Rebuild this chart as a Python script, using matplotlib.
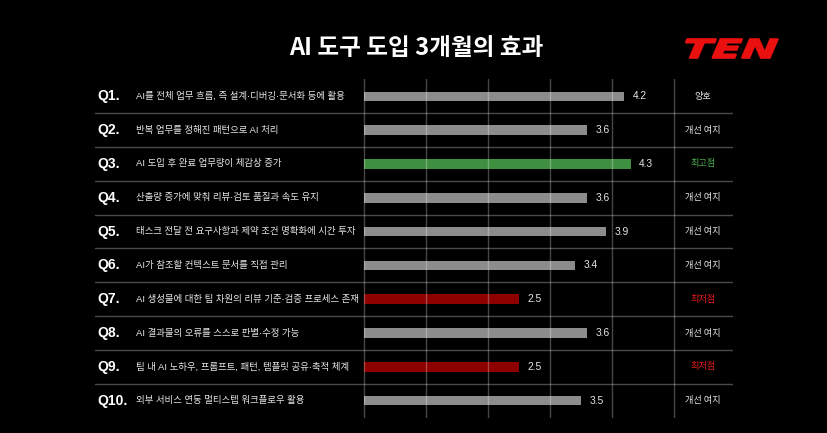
import matplotlib.pyplot as plt
from matplotlib import transforms
from matplotlib.font_manager import FontProperties
from matplotlib.textpath import TextPath
from matplotlib.patches import PathPatch

plt.rcParams['font.family'] = ['Noto Sans CJK KR', 'DejaVu Sans']
MIXED = ['Liberation Sans', 'Noto Sans CJK KR']   # narrow latin + middle dot, hangul fallback

# data
q_ids = ['Q1.', 'Q2.', 'Q3.', 'Q4.', 'Q5.', 'Q6.', 'Q7.', 'Q8.', 'Q9.', 'Q10.']
questions = [
    'AI를 전체 업무 흐름, 즉 설계·디버깅·문서화 등에 활용',
    '반복 업무를 정해진 패턴으로 AI 처리',
    'AI 도입 후 완료 업무량이 체감상 증가',
    '산출량 증가에 맞춰 리뷰·검토 품질과 속도 유지',
    '태스크 전달 전 요구사항과 제약 조건 명확화에 시간 투자',
    'AI가 참조할 컨텍스트 문서를 직접 관리',
    'AI 생성물에 대한 팀 차원의 리뷰 기준·검증 프로세스 존재',
    'AI 결과물의 오류를 스스로 판별·수정 가능',
    '팀 내 AI 노하우, 프롬프트, 패턴, 템플릿 공유·축적 체계',
    '외부 서비스 연동 멀티스텝 워크플로우 활용',
]
scores = [4.2, 3.6, 4.3, 3.6, 3.9, 3.4, 2.5, 3.6, 2.5, 3.5]
status = ['양호', '개선 여지', '최고점', '개선 여지', '개선 여지',
          '개선 여지', '최저점', '개선 여지', '최저점', '개선 여지']

# styling per status
bar_col = {'최고점': '#3f8f41', '최저점': '#8e0000'}
txt_col = {'최고점': '#4caf50', '최저점': '#e81818'}
GREY_BAR = '#8c8c8c'

W, H = 828, 433
fig = plt.figure(figsize=(W / 100, H / 100), dpi=100, facecolor='black')

# axes spans the table width; 0 of the scale sits at x=364px, 62px per point
left_px, right_px, zero_px, unit_px = 95, 733, 364, 62
top_px, bot_px = 79.4, 417.6
ax = fig.add_axes([left_px / W, (H - bot_px) / H,
                   (right_px - left_px) / W, (bot_px - top_px) / H])
ax.set_facecolor('black')
ax.set_xlim(-(zero_px - left_px) / unit_px, (right_px - zero_px) / unit_px)
n = len(scores)
ax.set_ylim(n - 0.5, -0.5)
ax.axis('off')

rows = list(range(n))
colors = [bar_col.get(s, GREY_BAR) for s in status]
ax.barh(rows, scores, height=0.28, color=colors, zorder=2)

# row separators
for k in range(n - 1):
    ax.axhline(k + 0.5, color='#4a4a4a', lw=1, zorder=1)
# vertical grid (0..5), last one separates the status column
for v in range(6):
    ax.axvline(v, color='white', alpha=0.28, lw=1, zorder=3)

# value labels
for i, v in enumerate(scores):
    ax.text(v + 0.14, i, f'{v:.1f}', color='#e6e6e6', fontsize=7.4,
            family=MIXED, va='center', ha='left', zorder=4)

tr = transforms.blended_transform_factory(fig.transFigure, ax.transData)
for i in rows:
    ax.text(97 / W, i, q_ids[i], transform=tr, color='white', fontsize=10,
            fontweight='bold', family=['Liberation Sans', 'DejaVu Sans'],
            va='center', ha='left')
    ax.text(136 / W, i, questions[i], transform=tr, color='#e6e6e6',
            fontsize=6.8, family=MIXED, va='center', ha='left')
    ax.text(703 / W, i, status[i], transform=tr,
            color=txt_col.get(status[i], '#e6e6e6'), fontsize=6.6,
            va='center', ha='center')

# title
fig.text(416 / W, 1 - 48 / H, 'AI 도구 도입 3개월의 효과', color='white',
         fontsize=17, fontweight='bold', ha='center', va='center')

# TEN logo
fp = FontProperties(family='DejaVu Sans', weight='bold', style='oblique')
tp = TextPath((0, 0), 'TEN', size=100, prop=fp)
bb = tp.get_extents()
lx0, lx1, ly_top, ly_bot = 684, 776, 39, 58
sx = (lx1 - lx0) / bb.width
sy = (ly_bot - ly_top) / bb.height
t = (transforms.Affine2D().translate(-bb.x0, -bb.y0).scale(sx, sy)
     .skew_deg(6, 0).translate(lx0, H - ly_bot))
logo = PathPatch(t.transform_path(tp), facecolor='#ea1010', edgecolor='#ea1010',
                 lw=1.2, transform=transforms.IdentityTransform())
fig.add_artist(logo)

fig.savefig('out.png', dpi=100, facecolor='black')
